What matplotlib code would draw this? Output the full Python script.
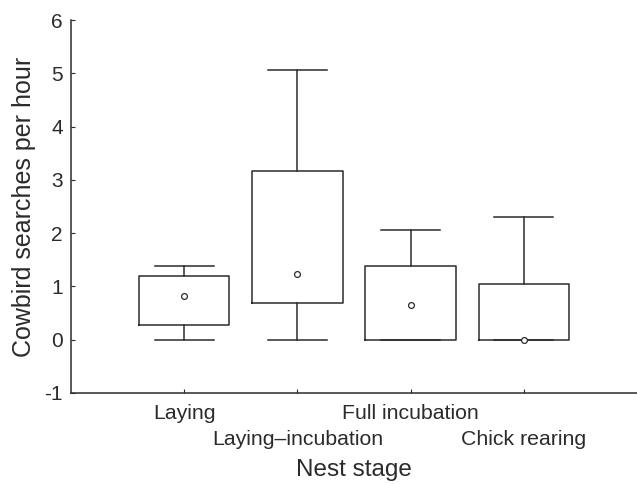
import numpy as np
import matplotlib.pyplot as plt

plt.rcParams['font.family'] = ['Liberation Sans', 'DejaVu Sans']

stages = ['Laying', 'Laying\u2013incubation', 'Full incubation', 'Chick rearing']
whisker_low = [0.0, 0.0, 0.0, 0.0]
box_low = [0.28, 0.68, 0.0, 0.0]
centre = [0.82, 1.24, 0.66, 0.0]
box_high = [1.19, 3.16, 1.38, 1.05]
whisker_high = [1.38, 5.06, 2.05, 2.30]
yticks = [-1, 0, 1, 2, 3, 4, 5, 6]

col = '#2b2b2b'

fig = plt.figure(figsize=(6.37, 4.84), dpi=100)
ax = fig.add_axes([71 / 637, 91 / 484, 566 / 637, 373 / 484])

stats = []
for i, name in enumerate(stages):
    stats.append(dict(label=name, whislo=whisker_low[i], q1=box_low[i],
                      med=centre[i], q3=box_high[i], whishi=whisker_high[i],
                      fliers=[]))

pos = np.arange(1, len(stages) + 1)
ax.bxp(stats, positions=pos, widths=0.8, showfliers=False,
       boxprops=dict(color=col, linewidth=1.1),
       whiskerprops=dict(color=col, linewidth=1.1),
       capprops=dict(color=col, linewidth=1.1),
       medianprops=dict(linewidth=0), capwidths=0.52)
ax.plot(pos, centre, 'o', ms=4.2, mfc='white', mec=col, mew=0.9, zorder=5)

ax.set_xlim(0, 5)
ax.set_ylim(-1, 6)
ax.set_yticks(yticks)
ax.set_yticklabels([str(t) for t in yticks])
ax.set_xticks(pos)
ax.set_xticklabels([])
for i, name in enumerate(stages):
    off = 0.054 if i % 2 == 0 else 0.126
    ax.text(pos[i], -off, name, transform=ax.get_xaxis_transform(),
            ha='center', va='center', fontsize=15.3, color=col)

ax.spines['top'].set_visible(False)
ax.spines['right'].set_visible(False)
for s in ('left', 'bottom'):
    ax.spines[s].set_color(col)
    ax.spines[s].set_linewidth(1.1)
ax.tick_params(direction='in', length=3, color=col, labelcolor=col,
               labelsize=15, width=0.8)
ax.tick_params(axis='y', pad=6)

ax.set_ylabel('Cowbird searches per hour', fontsize=18, color=col, labelpad=6)
ax.text(0.5, -0.207, 'Nest stage', transform=ax.transAxes, ha='center',
        va='center', fontsize=17.5, color=col)

fig.savefig('out.png', dpi=100)
